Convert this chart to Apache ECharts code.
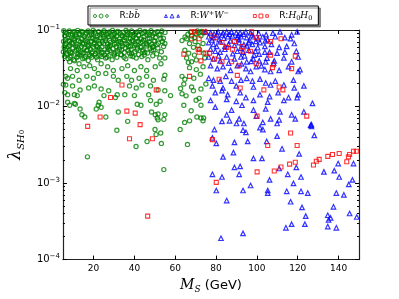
<!DOCTYPE html>
<html><head><meta charset="utf-8">
<script src="https://cdn.jsdelivr.net/npm/echarts@6/dist/echarts.min.js"></script>
<style>html,body{margin:0;padding:0;background:#fff}#c{width:399px;height:299px}</style>
</head><body><div id="c"></div>
<script>
// ---- data ----
const xTicks = [20, 40, 60, 80, 100, 120, 140];
const yDecadeExp = [-4, -3, -2, -1];
const seriesNames = ['R:bb', 'R:WW', 'R:HH'];

const greenBB = [
[5.4,0.098],[6.8,0.091],[8.1,0.097],[9.5,0.089],[10.7,0.095],[12.2,0.099],[13.1,0.09],[14.6,0.094],[15.9,0.088],[17.3,0.097],[18.4,0.092],[19.8,0.099],[21.2,0.089],[22.5,0.095],[23.9,0.091],[25.1,0.098],[26.6,0.088],[27.8,0.094],[29.3,0.099],[30.4,0.09],[31.9,0.096],[33.2,0.089],[34.5,0.093],[35.9,0.099],[37.3,0.091],[38.6,0.097],[39.8,0.088],[41.3,0.094],[42.7,0.099],[43.9,0.09],[45.2,0.096],[46.8,0.092],[48.1,0.098],[49.6,0.089],[51.2,0.095],[53.4,0.097],[55.0,0.093],
[6.1,0.093],[7.7,0.087],[9.9,0.094],[11.4,0.088],[13.9,0.096],[16.4,0.091],[18.9,0.087],[20.5,0.094],[23.1,0.086],[24.8,0.093],[27.3,0.09],[29.9,0.087],[31.3,0.093],[33.9,0.085],[36.5,0.094],[38.1,0.087],[40.5,0.091],[42.1,0.086],[44.6,0.093],[47.4,0.087],[50.1,0.092],[52.6,0.088],
[5.9,0.084],[7.4,0.079],[8.8,0.086],[10.1,0.077],[11.5,0.082],[12.9,0.087],[14.0,0.078],[15.4,0.083],[16.8,0.076],[18.0,0.086],[19.3,0.08],[20.7,0.075],[21.9,0.084],[23.3,0.079],[24.6,0.087],[26.0,0.077],[27.3,0.082],[28.6,0.086],[30.0,0.078],[31.2,0.083],[32.7,0.076],[34.0,0.085],[35.3,0.08],[36.6,0.087],[38.0,0.077],[39.3,0.083],[40.7,0.079],[42.0,0.086],[43.4,0.076],[44.7,0.082],[46.1,0.087],[47.4,0.078],[48.9,0.084],[50.3,0.08],[52.1,0.086],[54.2,0.078],
[6.3,0.075],[8.3,0.071],[10.9,0.078],[12.5,0.072],[14.4,0.076],[17.2,0.071],[19.7,0.077],[22.6,0.072],[25.0,0.079],[27.9,0.073],[30.6,0.076],[33.2,0.071],[36.0,0.078],[38.7,0.072],[41.1,0.077],[43.9,0.071],[46.6,0.076],[49.5,0.072],[52.9,0.077],
[5.3,0.071],[6.5,0.066],[7.9,0.073],[9.2,0.068],[10.6,0.074],[11.9,0.065],[13.5,0.07],[14.8,0.067],[16.2,0.073],[17.6,0.065],[18.9,0.071],[20.4,0.068],[21.6,0.074],[23.0,0.066],[24.3,0.07],[25.7,0.073],[27.0,0.065],[28.3,0.069],[29.7,0.074],[31.0,0.066],[32.4,0.071],[33.8,0.067],[35.1,0.074],[36.4,0.065],[37.7,0.07],[39.1,0.073],[40.4,0.066],[41.8,0.071],[43.1,0.068],[44.5,0.074],[45.8,0.066],[47.2,0.07],[48.6,0.065],[50.0,0.072],[51.8,0.067],[53.7,0.071],
[6.0,0.064],[7.6,0.061],[9.8,0.066],[12.1,0.06],[14.6,0.065],[17.5,0.061],[20.1,0.065],[22.1,0.06],[24.9,0.066],[27.6,0.061],[30.2,0.065],[32.9,0.06],[35.4,0.066],[38.0,0.061],[40.8,0.064],[43.5,0.06],[46.3,0.065],[48.9,0.06],[51.1,0.064],[54.3,0.061],
[5.6,0.06],[7.0,0.057],[8.4,0.063],[9.9,0.058],[11.2,0.062],[12.6,0.056],[14.2,0.061],[15.6,0.058],[17.0,0.063],[18.5,0.056],[19.9,0.06],[21.3,0.062],[22.8,0.057],[24.1,0.061],[25.5,0.055],[26.9,0.06],[28.2,0.063],[29.5,0.057],[31.1,0.061],[32.6,0.056],[34.1,0.062],[35.6,0.058],[37.0,0.061],[38.4,0.056],[39.9,0.063],[41.5,0.058],[42.9,0.06],[44.3,0.055],[46.0,0.062],[47.7,0.057],[49.3,0.061],[51.5,0.058],
[6.2,0.055],[8.7,0.051],[11.7,0.055],[14.4,0.05],[16.9,0.055],[19.1,0.05],[21.8,0.055],[24.6,0.051],[27.2,0.056],[30.5,0.051],[33.8,0.055],[37.5,0.05],[41.2,0.055],[45.1,0.051],[49.4,0.055],
[5.2,0.052],[6.6,0.049],[8.0,0.054],[9.4,0.05],[10.9,0.053],[12.3,0.048],[13.8,0.052],[15.1,0.05],[16.5,0.054],[17.9,0.048],[19.5,0.052],[20.9,0.049],[22.4,0.053],[23.8,0.05],[25.3,0.047],[26.8,0.052],[28.0,0.054],[29.9,0.049],[31.6,0.053],[33.3,0.048],[35.0,0.051],[36.9,0.054],[38.7,0.049],[40.2,0.052],[42.1,0.048],[44.0,0.053],[46.4,0.05],[48.5,0.054],[50.9,0.049],[53.2,0.052],
[6.9,0.047],[8.5,0.044],[12.4,0.045],[15.6,0.043],[18.3,0.046],[21.4,0.044],[23.2,0.047],[26.6,0.044],[30.2,0.047],[34.9,0.044],[39.3,0.045],[44.8,0.047],
[5.8,0.045],[7.5,0.042],[9.0,0.046],[10.3,0.041],[11.8,0.044],[13.3,0.047],[14.7,0.042],[16.0,0.045],[17.4,0.04],[19.1,0.044],[20.5,0.047],[22.0,0.041],[24.0,0.045],[25.9,0.043],[27.5,0.046],[29.1,0.041],[31.4,0.044],[33.7,0.047],[35.8,0.042],[38.2,0.046],[40.9,0.043],[43.6,0.045],[46.6,0.041],[49.0,0.046],[52.4,0.043],
[8.3,0.0384],[10.6,0.0395],[12.9,0.0362],[8.7,0.0313],[12.0,0.0296],[15.3,0.0332],[18.1,0.0342],[20.4,0.0313],[23.7,0.0362],[26.9,0.0332],[29.7,0.0296],[33.9,0.0313],[36.7,0.0342],[40.0,0.0296],[43.2,0.0332],[46.0,0.0296],[50.2,0.0332],[53.0,0.0362],
[7.3,0.0234],[9.7,0.0248],[12.9,0.0221],[16.7,0.0248],[19.9,0.0234],[22.3,0.0271],[26.0,0.0271],[29.7,0.0248],[32.1,0.0221],[36.3,0.0248],[38.6,0.0221],[42.3,0.0234],[46.0,0.0248],[49.3,0.0221],[54.9,0.0256],
[6.4,0.0191],[9.7,0.0186],[13.4,0.0165],[17.6,0.0175],[20.4,0.0186],[23.7,0.017],[27.4,0.0161],[31.6,0.0143],[37.6,0.0186],[40.9,0.0175],[43.7,0.0191],[47.9,0.0186],[51.6,0.0165],
[7.3,0.0143],[10.6,0.0143],[12.0,0.0139],[25.1,0.0139],[35.3,0.0143],[40.0,0.0139],[47.0,0.0143],[57.7,0.0139],
[7.3,0.0114],[8.3,0.0104],[11.1,0.0107],[22.3,0.0104],[22.7,0.0114],[30.7,0.0131],[41.4,0.0107],[43.2,0.0104],[47.9,0.012],[50.7,0.0107],[52.6,0.0117],
[14.3,0.0078],[15.7,0.0073],[21.3,0.0093],[23.7,0.0098],[26.0,0.0073],[32.1,0.0085],[36.7,0.0064],[48.4,0.0085],[50.2,0.0078],[51.6,0.008],[54.9,0.0078],
[31.4,0.0049],[40.8,0.003],[46.2,0.0035],[50.1,0.005],[50.6,0.0043],[52.9,0.0045],[53.2,0.0033],[51.2,0.0071],[51.6,0.0067],[54.4,0.0068],[54.4,0.0015],[17.0,0.0022],
[5.9,0.0152],[6.4,0.0248],[10.6,0.011],[13.4,0.0093],[5.2,0.0195],
[63.3,0.0727],[65.6,0.077],[68.0,0.084],[69.4,0.0793],[70.3,0.0891],[71.7,0.0917],[72.6,0.084],[74.0,0.0917],[67.0,0.0666],[68.9,0.0593],[71.2,0.0629],[73.6,0.0666],[64.7,0.0544],[66.6,0.0498],[69.4,0.047],[74.0,0.0498],[65.6,0.0431],[68.0,0.0384],[70.3,0.0407],[67.0,0.0322],[70.3,0.0304],[73.6,0.0332],[63.3,0.0248],[64.7,0.0228],[64.2,0.0197],[68.0,0.018],[68.9,0.0161],[72.6,0.017],[63.3,0.0147],[64.2,0.0104],[67.0,0.0065],[72.6,0.0071],[73.6,0.0065],[62.4,0.005],[54.9,0.0666],[54.9,0.0431],[54.4,0.0228],[54.9,0.0161],[71.7,0.0128],[72.6,0.0104],[75.0,0.0197],[64.6,0.0062],[66.0,0.0032],[70.6,0.0073],[73.9,0.0071],
[66.2,0.088],[67.5,0.0935],[70.8,0.0972],[72.9,0.0955],[64.8,0.0812],[69.7,0.0705],[71.9,0.0555],[66.4,0.0375],[72.3,0.0265],[69.1,0.0235],[65.3,0.0138],[70.2,0.0121],[67.8,0.0088],[62.6,0.0172],[74.4,0.043]
];

const blueWW = [
[75.0,0.0944],[77.3,0.0917],[81.0,0.0944],[83.4,0.0917],[85.2,0.0944],[87.6,0.0944],[89.9,0.0917],[91.8,0.0917],[94.6,0.0944],[96.9,0.0917],[111.3,0.0944],[119.7,0.0944],
[79.0,0.089],[83.0,0.086],[86.5,0.088],[90.8,0.085],[93.4,0.088],[97.6,0.086],[100.9,0.09],[104.5,0.087],[107.8,0.091],
[76.4,0.0816],[78.7,0.0793],[80.6,0.0865],[81.5,0.0748],[85.7,0.0816],[88.0,0.084],[90.4,0.0793],[92.2,0.0816],[95.0,0.0793],[98.3,0.0816],[100.6,0.077],[102.9,0.0816],[105.3,0.0748],[109.0,0.0816],[113.7,0.0793],[117.0,0.0865],
[78.0,0.074],[83.8,0.078],[87.1,0.072],[91.2,0.075],[96.4,0.073],[99.5,0.071],[104.1,0.072],
[76.4,0.0686],[78.7,0.0647],[82.0,0.0706],[84.3,0.0611],[89.0,0.0629],[91.3,0.0686],[93.6,0.0647],[96.0,0.0686],[97.8,0.0647],[101.5,0.0686],[103.9,0.0611],[107.1,0.0647],[110.9,0.0593],[114.6,0.0611],[118.3,0.0666],
[80.3,0.061],[86.1,0.065],[92.1,0.058],[95.1,0.062],[100.4,0.059],
[77.3,0.056],[79.6,0.0528],[82.0,0.0513],[84.3,0.056],[90.4,0.0528],[93.2,0.0513],[96.0,0.0544],[99.2,0.0528],[101.1,0.0484],[103.9,0.0513],[106.2,0.0513],[109.9,0.0498],[113.7,0.0513],[119.3,0.0528],
[88.2,0.049],[93.9,0.046],[98.6,0.047],[104.9,0.043],[81.2,0.046],
[76.4,0.0444],[78.7,0.0419],[82.0,0.0395],[85.2,0.0444],[89.0,0.0419],[92.2,0.0444],[95.0,0.0384],[98.3,0.0419],[101.1,0.0395],[104.3,0.0384],[108.5,0.0395],[113.2,0.0431],[117.0,0.0384],[120.2,0.0444],
[86.2,0.037],[92.5,0.036],[97.2,0.039],[102.2,0.034],[108.2,0.037],
[77.3,0.0342],[80.6,0.0313],[83.4,0.0332],[87.1,0.0296],[90.4,0.0342],[94.6,0.0313],[96.9,0.0287],[99.7,0.0332],[103.9,0.0304],[106.7,0.0287],[110.9,0.0296],[115.5,0.0332],[120.2,0.0287],
[76.4,0.0234],[78.7,0.0221],[82.0,0.0215],[84.8,0.0248],[87.6,0.0215],[92.2,0.0221],[95.0,0.0234],[97.8,0.0215],[101.5,0.0228],[104.3,0.0203],[109.0,0.0215],[113.2,0.0191],[117.9,0.0221],
[78.2,0.0186],[83.4,0.0175],[89.9,0.0186],[98.3,0.018],[106.7,0.0191],[118.3,0.0175],
[79.6,0.0152],[82.9,0.0161],[85.7,0.0143],[91.8,0.0152],[94.6,0.0131],[101.5,0.0143],[106.2,0.0135],[110.4,0.0152],[115.5,0.0131],[120.2,0.0143],
[77.3,0.012],[85.2,0.0124],[89.9,0.0117],[98.3,0.012],[105.3,0.0114],[113.2,0.012],
[79.6,0.0098],[87.6,0.009],[92.7,0.0104],[98.3,0.009],[104.3,0.0093],[111.3,0.0085],
[85.2,0.0078],[91.3,0.0069],[99.7,0.0075],[106.7,0.0069],[117.0,0.0078],
[82.9,0.0064],[93.6,0.006],[102.9,0.0062],[110.9,0.0067],
[121.1,0.0304],[123.0,0.0186],[127.2,0.011],[123.0,0.0085],[118.8,0.0069],[126.7,0.0058],[119.7,0.0131],[116.5,0.077],
[86.6,0.0065],[90.0,0.006],[109.9,0.006],[126.3,0.0057],
[79.2,0.005],[93.2,0.0049],[94.6,0.0046],[101.5,0.0053],[102.9,0.005],[126.7,0.0055],[128.1,0.0042],[78.2,0.0039],[80.1,0.0033],[89.0,0.0034],[95.5,0.0035],[104.8,0.0035],[109.9,0.0041],[112.3,0.0028],[120.7,0.0024],[83.4,0.0022],[88.5,0.0025],[98.3,0.0021],[102.5,0.0021],[89.0,0.0016],[91.8,0.00165],[78.2,0.0013],[82.9,0.0012],[91.3,0.0013],[110.9,0.00155],[115.1,0.0013],[119.3,0.0016],[121.6,0.0012],[139.8,0.0018],[147.3,0.0018],[132.8,0.0014],[137.9,0.00145],[140.3,0.0012],[146.8,0.0011],[145.0,0.00096],[106.2,0.0011],[96.9,0.00093],[80.1,0.0008],[93.2,0.0008],[105.3,0.0008],[105.3,0.00074],[114.6,0.00078],[117.9,0.00099],[121.6,0.00078],[124.9,0.00074],[138.9,0.00074],[142.6,0.0007],[85.2,0.00059],[116.5,0.00057],[122.1,0.00048],[137.5,0.00049],[145.4,0.0004],[148.9,0.00036],[123.9,0.00037],[134.7,0.00038],[136.1,0.00035],[135.1,0.00033],[117.0,0.00029],[123.5,0.00029],[114.2,0.00026],[134.7,0.00027],[138.9,0.00026],[93.2,0.00022],[82.4,0.00019]
];

const redHH = [
[17.1,0.0055],[23.2,0.0073],[28.3,0.0131],[33.9,0.0191],[36.3,0.0087],[40.4,0.0082],[42.8,0.0058],[37.6,0.0038],[48.8,0.0038],[46.5,0.00037],[50.7,0.0165],
[64.2,0.0484],[67,0.0248],[68,0.0944],[69.4,0.0944],[68,0.077],[71.7,0.077],[71.2,0.056],[71.7,0.0513],[72.6,0.0395],[74.5,0.0944],[77.8,0.084],[79.6,0.0793],[82.9,0.0686],[85.2,0.0593],[89,0.0706],[92.7,0.061],[97.4,0.0944],[99.7,0.0793],[106.7,0.0706],[111.8,0.077],[75,0.0498],[76.8,0.0498],[79.2,0.0418],[82.9,0.0384],[87.6,0.0384],[88,0.056],[93.2,0.0528],[96.9,0.0528],[91.3,0.0341],[99.7,0.0362],[106.7,0.047],[118.8,0.0456],[81.5,0.0227],[90.4,0.0255],[107.6,0.0322],[108.1,0.0352],[117,0.0313],[91.8,0.0175],[103.4,0.0165],[110.9,0.018],[112.7,0.0165],[100.1,0.0075],[124.4,0.0075],[116.5,0.0045],[78.2,0.0037],[105.3,0.0031],[119.7,0.0031],[100.1,0.0014],[80.1,0.00102],[108.5,0.00144],[111.8,0.00162],[116,0.00177],[118.8,0.00187],[127.7,0.00172],[129.1,0.00193],[130.5,0.00204],[134.7,0.00223],[137,0.00236],[140.3,0.00243],[144,0.0019],[144.8,0.0022],[145.4,0.00236],[147.3,0.0026],[148.7,0.0026]
];

// ---- chart ----
const minorExp = [];
for (let n = -4; n < -1; n++) for (let k = 2; k <= 9; k++) minorExp.push(n + Math.log10(k));

const COLORS = ['#008000', '#0000ff', '#ff0000'];
const ICONS = [
  'path://M0.3,2.6a1.9,1.9 0 1,0 3.8,0a1.9,1.9 0 1,0 -3.8,0Z M7.3,2.6a2.5,2.5 0 1,0 5,0a2.5,2.5 0 1,0 -5,0Z M15.5,2.6a1.7,1.7 0 1,0 3.4,0a1.7,1.7 0 1,0 -3.4,0Z',
  'path://M2,0.7L3.8,4.3L0.2,4.3Z M9.5,0.1L11.9,4.9L7.1,4.9Z M17,0.9L18.6,4.1L15.4,4.1Z',
  'path://M0.2,0.7L3.8,0.7L3.8,4.3L0.2,4.3Z M7.1,0.1L11.9,0.1L11.9,4.9L7.1,4.9Z M15.4,0.9L18.6,0.9L18.6,4.1L15.4,4.1Z'
];
const LEG_TEXT = {
  'R:bb': '{n|R:}{m|bb\u0304}',
  'R:WW': '{n|R:}{m|W}{sup|+}{m|W}{sup|\u2212}',
  'R:HH': '{n|R:}{m|H}{sub|0}{m|H}{sub|0}'
};
const serif = 'DejaVu Serif';
const sans = 'DejaVu Sans';

const chart = echarts.init(document.getElementById('c'), null, {renderer: 'canvas'});
const axisLineStyle = {color: '#222', width: 1.2};

chart.setOption({
  animation: false,
  backgroundColor: '#fff',
  grid: {left: 49, right: 40, top: 30, bottom: 31},
  legend: {
    left: 88, top: 6,
    padding: [4, 6, 3, 5],
    itemGap: 24,
    itemWidth: 15, itemHeight: 4,
    backgroundColor: '#fff',
    borderColor: '#000', borderWidth: 1,
    shadowColor: 'rgba(0,0,0,0.45)', shadowBlur: 0, shadowOffsetX: 2, shadowOffsetY: 2,
    data: seriesNames.map((n, i) => ({
      name: n, icon: ICONS[i],
      itemStyle: {color: 'transparent', borderColor: COLORS[i], borderWidth: 1}
    })),
    formatter: n => LEG_TEXT[n],
    textStyle: {
      padding: [0, 0, 0, 6],
      rich: {
        n: {fontFamily: sans, fontSize: 9, color: '#000', lineHeight: 12},
        m: {fontFamily: serif, fontStyle: 'italic', fontSize: 9, color: '#000', lineHeight: 12},
        sup: {fontFamily: serif, fontSize: 6.5, color: '#000', lineHeight: 7, verticalAlign: 'top'},
        sub: {fontFamily: serif, fontSize: 6.5, color: '#000', lineHeight: 7, verticalAlign: 'bottom'}
      }
    }
  },
  xAxis: [{
    type: 'value', min: 5, max: 150, position: 'bottom',
    axisLine: {onZero: false, lineStyle: axisLineStyle},
    axisTick: {inside: true, length: 4, customValues: xTicks, lineStyle: {color: '#000'}},
    axisLabel: {customValues: xTicks, color: '#000', fontSize: 9, fontFamily: sans, margin: 5},
    splitLine: {show: false},
    name: '{i|M}{s|S}{n| (GeV)}',
    nameLocation: 'middle', nameGap: 11,
    nameTextStyle: {
      rich: {
        i: {fontFamily: serif, fontStyle: 'italic', fontSize: 14, color: '#000', lineHeight: 17},
        s: {fontFamily: serif, fontStyle: 'italic', fontSize: 9, color: '#000', lineHeight: 9, verticalAlign: 'bottom'},
        n: {fontFamily: sans, fontSize: 13, color: '#000', lineHeight: 17}
      }
    }
  }, {
    type: 'value', min: 5, max: 150, position: 'top',
    axisLine: {onZero: false, lineStyle: axisLineStyle},
    axisTick: {inside: true, length: 4, customValues: xTicks, lineStyle: {color: '#000'}},
    axisLabel: {show: false},
    splitLine: {show: false}
  }],
  yAxis: [{
    type: 'log', logBase: 10, min: 1e-4, max: 1e-1, position: 'left',
    axisLine: {show: true, onZero: false, lineStyle: axisLineStyle},
    axisTick: {inside: true, length: 4, lineStyle: {color: '#000'}},
    axisLabel: {
      margin: 3,
      formatter: v => {
        const e = Math.round(Math.log10(v));
        return yDecadeExp.indexOf(e) >= 0 ? '{b|10}{e|\u2212' + (-e) + '}' : '';
      },
      rich: {
        b: {fontFamily: sans, fontSize: 10, color: '#000', lineHeight: 13},
        e: {fontFamily: sans, fontSize: 7, color: '#000', lineHeight: 8, verticalAlign: 'top'}
      }
    },
    splitLine: {show: false},
    name: '{l|\u03bb}{s|SH}{z|0}',
    nameLocation: 'middle', nameRotate: 90, nameGap: 22,
    nameTextStyle: {
      rich: {
        l: {fontFamily: serif, fontStyle: 'italic', fontSize: 16, color: '#000', lineHeight: 20},
        s: {fontFamily: serif, fontStyle: 'italic', fontSize: 10, color: '#000', lineHeight: 12, verticalAlign: 'bottom'},
        z: {fontFamily: serif, fontSize: 7, color: '#000', lineHeight: 7, verticalAlign: 'bottom'}
      }
    }
  }, {
    type: 'value', min: -4, max: -1, position: 'left',
    axisLine: {show: false, onZero: false},
    axisTick: {inside: true, length: 2, customValues: minorExp, lineStyle: {color: '#000'}},
    axisLabel: {show: false}, splitLine: {show: false}
  }, {
    type: 'log', logBase: 10, min: 1e-4, max: 1e-1, position: 'right',
    axisLine: {show: true, onZero: false, lineStyle: axisLineStyle},
    axisTick: {inside: true, length: 4, lineStyle: {color: '#000'}},
    axisLabel: {show: false}, splitLine: {show: false}
  }, {
    type: 'value', min: -4, max: -1, position: 'right',
    axisLine: {show: false, onZero: false},
    axisTick: {inside: true, length: 2, customValues: minorExp, lineStyle: {color: '#000'}},
    axisLabel: {show: false}, splitLine: {show: false}
  }],
  series: [
    {name: seriesNames[0], type: 'scatter', xAxisIndex: 0, yAxisIndex: 0, data: greenBB,
     symbol: 'circle', symbolSize: 4.2,
     itemStyle: {color: 'transparent', borderColor: COLORS[0], borderWidth: 1.2}},
    {name: seriesNames[1], type: 'scatter', xAxisIndex: 0, yAxisIndex: 0, data: blueWW,
     symbol: 'triangle', symbolSize: 4.5,
     itemStyle: {color: 'transparent', borderColor: COLORS[1], borderWidth: 1.2}},
    {name: seriesNames[2], type: 'scatter', xAxisIndex: 0, yAxisIndex: 0, data: redHH,
     symbol: 'rect', symbolSize: 4,
     itemStyle: {color: 'transparent', borderColor: COLORS[2], borderWidth: 1.1}}
  ]
});
</script></body></html>
